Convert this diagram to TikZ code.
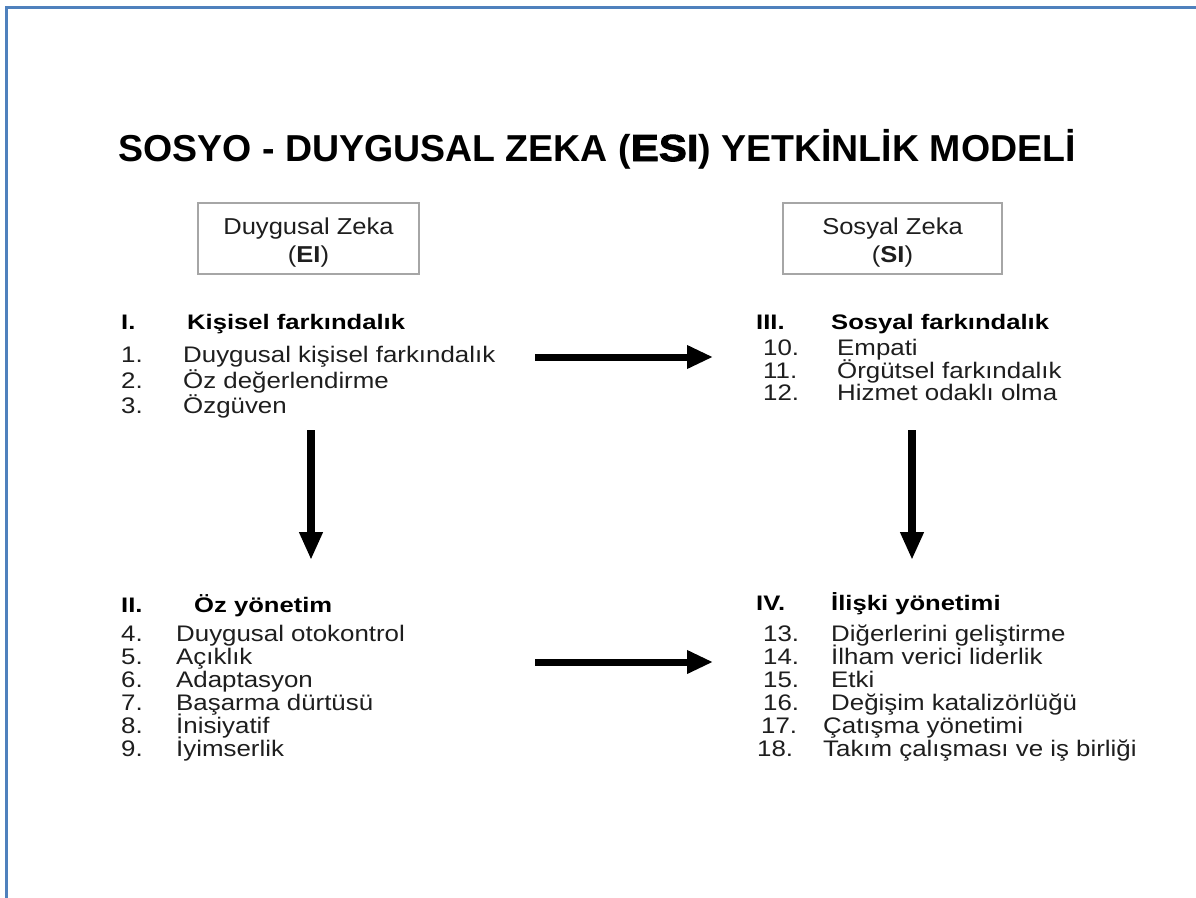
\documentclass[tikz,border=0pt]{standalone}
\usepackage{fontspec}
\setmainfont{Liberation Sans}
\usetikzlibrary{arrows.meta}
\newfontface\titleface{Liberation Sans Bold}
\newfontface\titleheavy[FakeStretch=1.12,FakeBold=2.5]{Liberation Sans Bold}
\newfontface\headface[FakeStretch=1.22]{Liberation Sans Bold}
\newfontface\itemface[FakeStretch=1.15]{Liberation Sans}
\newfontface\boxface[FakeStretch=1.11]{Liberation Sans}
\newfontface\boxbold[FakeStretch=1.11]{Liberation Sans Bold}
\newcommand\titlefont{\fontsize{37.5pt}{37.5pt}\titleface}
\newcommand\headfont{\fontsize{21pt}{21pt}\headface}
\newcommand\itemfont{\fontsize{22.5pt}{22.5pt}\itemface}
\newcommand\boxfont{\fontsize{23pt}{28pt}\boxface}
\definecolor{frameblue}{HTML}{4F81BD}
\definecolor{boxgray}{HTML}{A6A6A6}
\definecolor{txt}{HTML}{1E1E1E}
\tikzset{
  lbl/.style={anchor=base west, inner sep=0pt, text=txt},
  itm/.style={lbl, font=\itemfont},
  hd/.style={lbl, font=\headfont, text=black},
  zbox/.style={draw=boxgray, line width=1.5pt, minimum width=221pt, minimum height=71pt,
    inner sep=0pt},
  boxtxt/.style={inner sep=0pt, align=center, font=\boxfont, text=txt},
  blkh/.style={line width=7pt, draw=black, -{Triangle[width=22pt,length=26pt]}},
  blkv/.style={line width=8pt, draw=black, -{Triangle[width=22pt,length=28pt]}},
  frame/.style={draw=frameblue, line width=3pt}
}
\begin{document}
\begin{tikzpicture}[x=1pt,y=-1pt]
\useasboundingbox (0,0) rectangle (1196,897);
\fill[white] (0,0) rectangle (1196,897);
% frame
\coordinate (fb) at (6,900);
\coordinate (ftl) at (6,7);
\coordinate (ftr) at (1199,7);
\draw[frame] (fb) -- (ftl) -- (ftr);
% title
\node[anchor=base, inner sep=0pt, font=\titlefont, text=black] (title) at (597,161)
  {SOSYO - DUYGUSAL ZEKA ({\titleheavy ESI}) YETK\.{I}NL\.{I}K MODEL\.{I}};
% boxes
\node[zbox] (ei) at (308.5,238.5) {};
\node[boxtxt] (eit) at ([yshift=-4pt]ei.center) {Duygusal Zeka\\({\boxbold EI})};
\node[zbox, minimum width=219pt] (si) at (892.5,238.5) {};
\node[boxtxt] (sit) at ([yshift=-4pt]si.center) {Sosyal Zeka\\({\boxbold SI})};
% Section I
\node[hd] (h1n) at (121,329) {I.};
\node[hd] (h1) at (187,329) {Kişisel farkındalık};
\node[itm] (n1) at (121,362) {1.};
\node[itm] (t1) at (183,362) {Duygusal kişisel farkındalık};
\node[itm] (n2) at (121,388) {2.};
\node[itm] (t2) at (183,388) {Öz değerlendirme};
\node[itm] (n3) at (121,413) {3.};
\node[itm] (t3) at (183,413) {Özgüven};
% Section III
\node[hd] (h3n) at (756,329) {III.};
\node[hd] (h3) at (831,329) {Sosyal farkındalık};
\node[itm] (n10) at (763,355) {10.};
\node[itm] (t10) at (837,355) {Empati};
\node[itm] (n11) at (763,378) {11.};
\node[itm] (t11) at (837,378) {Örgütsel farkındalık};
\node[itm] (n12) at (763,400) {12.};
\node[itm] (t12) at (837,400) {Hizmet odaklı olma};
% Section II
\node[hd] (h2n) at (121,612) {II.};
\node[hd] (h2) at (194,612) {Öz yönetim};
\node[itm] (n4) at (121,641) {4.};
\node[itm] (t4) at (176,641) {Duygusal otokontrol};
\node[itm] (n5) at (121,664) {5.};
\node[itm] (t5) at (176,664) {Açıklık};
\node[itm] (n6) at (121,687) {6.};
\node[itm] (t6) at (176,687) {Adaptasyon};
\node[itm] (n7) at (121,710) {7.};
\node[itm] (t7) at (176,710) {Başarma dürtüsü};
\node[itm] (n8) at (121,733) {8.};
\node[itm] (t8) at (176,733) {İnisiyatif};
\node[itm] (n9) at (121,756) {9.};
\node[itm] (t9) at (176,756) {İyimserlik};
% Section IV
\node[hd] (h4n) at (756,610) {IV.};
\node[hd] (h4) at (831,610) {İlişki yönetimi};
\node[itm] (n13) at (763,641) {13.};
\node[itm] (t13) at (831,641) {Diğerlerini geliştirme};
\node[itm] (n14) at (763,664) {14.};
\node[itm] (t14) at (831,664) {İlham verici liderlik};
\node[itm] (n15) at (763,687) {15.};
\node[itm] (t15) at (831,687) {Etki};
\node[itm] (n16) at (763,710) {16.};
\node[itm] (t16) at (831,710) {Değişim katalizörlüğü};
\node[itm] (n17) at (761,733) {17.};
\node[itm] (t17) at (823,733) {Çatışma yönetimi};
\node[itm] (n18) at (757,756) {18.};
\node[itm] (t18) at (823,756) {Takım çalışması ve iş birliği};
% arrows
\coordinate (a1s) at (535,357);
\coordinate (a1e) at (713,357);
\coordinate (a2s) at (535,662);
\coordinate (a2e) at (713,662);
\coordinate (a3s) at (311,430);
\coordinate (a3e) at (311,560);
\coordinate (a4s) at (912,430);
\coordinate (a4e) at (912,560);
\draw[blkh] (a1s) -- (a1e);
\draw[blkh] (a2s) -- (a2e);
\draw[blkv] (a3s) -- (a3e);
\draw[blkv] (a4s) -- (a4e);
\end{tikzpicture}
\end{document}
